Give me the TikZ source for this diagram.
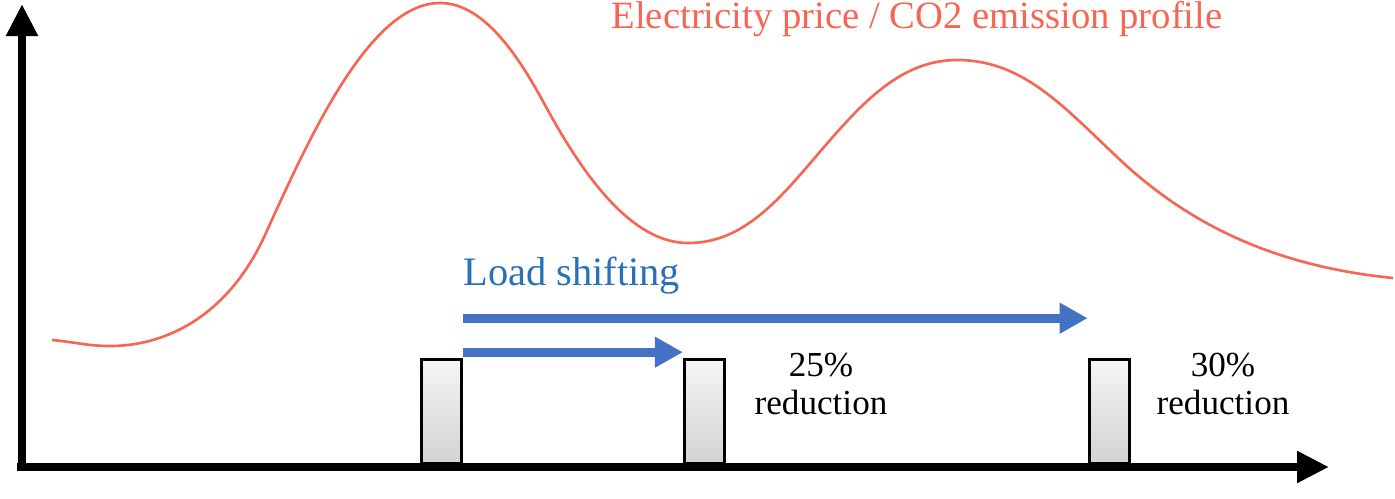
\documentclass[tikz,border=0pt]{standalone}
\usepackage{fontspec}
\setmainfont{Liberation Serif}
\usetikzlibrary{arrows.meta,positioning}

\definecolor{pricered}{RGB}{247,102,84}
\definecolor{shiftblue}{RGB}{68,114,196}
\definecolor{labelblue}{RGB}{40,112,186}

\tikzset{
  axis/.style={line width=5pt, -{Triangle[length=6.4mm, width=6mm]}},
  shiftarrow/.style={shiftblue, line width=5.2pt, -{Triangle[length=5.6mm, width=5.8mm]}},
  loadbox/.style={rectangle, draw, line width=1.6pt, minimum width=8mm, minimum height=20.8mm,
    inner sep=0, top color=gray!8, bottom color=gray!35},
  note/.style={align=center, inner sep=0, font=\fontsize{20}{21.5}\selectfont},
}

\begin{document}
\begin{tikzpicture}[x=0.2mm, y=-0.2mm, node distance=4.4cm]
      \useasboundingbox (0,0) rectangle (1395,498);

      % price / emission profile
      \draw[pricered, line width=1.5pt] (52,340)
        .. controls (75,342) and (87,346) .. (110,346)
        .. controls (170,346) and (230,312) .. (265,235)
        .. controls (310,136) and (370,3) .. (440,3)
        .. controls (485,3) and (520,59) .. (545,105)
        .. controls (585,179) and (633,243) .. (688,243)
        .. controls (733,243) and (765,215) .. (800,175)
        .. controls (850,117.5) and (892,60) .. (957,60)
        .. controls (1022,60) and (1062,105) .. (1117,157)
        .. controls (1187,223.5) and (1273,266) .. (1393,278);
      \node[text=pricered, inner sep=0, anchor=base, font=\fontsize{22}{24}\selectfont] (title) at (917,28) {Electricity price / CO2 emission profile};

      % loads
      \node[loadbox, anchor=south] (load1) at (441.5,465) {};
      \node[loadbox, right=of load1] (load2) {};
      \node[loadbox, right=7.24cm of load2] (load3) {};

      \node[note, anchor=north] (red25) at (821,353) {25\%\\reduction};
      \node[note, anchor=north] (red30) at (1223,353) {30\%\\reduction};

      % axes
      \coordinate (origin) at (22,467);
      \coordinate (ytip) at (22,4);
      \coordinate (xtip) at (1329,467);
      \draw[axis] ([yshift=-0.5mm]origin) -- (ytip);
      \draw[axis] ([xshift=-1mm]origin) -- (xtip);

      % shifting
      \draw[shiftarrow] ([yshift=8mm]load1.north east) -- ([yshift=8mm]load3.north west);
      \draw[shiftarrow] ([yshift=1.2mm]load1.north east) -- ([yshift=1.2mm]load2.north west);
      \node[text=labelblue, inner sep=0, anchor=base west, font=\fontsize{23}{26}\selectfont] (shiftlabel) at (463,285) {Load shifting};
    \end{tikzpicture}
\end{document}
